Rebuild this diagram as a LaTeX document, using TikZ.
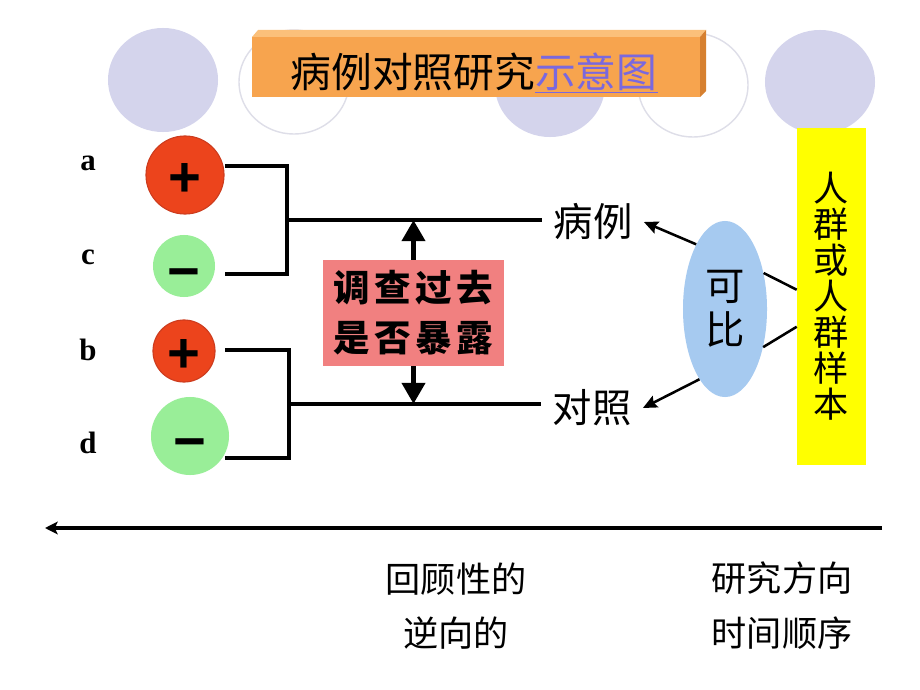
\documentclass[tikz,border=0pt]{standalone}
\usepackage{fontspec}
\setmainfont{Liberation Serif}
\newfontfamily\cjk{Noto Sans CJK SC}
\newfontfamily\cjkheavy[LetterSpace=12]{Noto Sans CJK SC}
\newfontfamily\symfont{Liberation Sans}
\usetikzlibrary{shapes}
\usetikzlibrary{arrows.meta}
\definecolor{lavender}{RGB}{212,212,236}
\definecolor{ringgrey}{RGB}{222,222,232}
\definecolor{boxfront}{RGB}{247,164,78}
\definecolor{boxtop}{RGB}{251,192,122}
\definecolor{boxside}{RGB}{214,128,48}
\definecolor{linkblue}{RGB}{122,104,222}
\definecolor{posred}{RGB}{236,68,28}
\definecolor{posedge}{RGB}{205,60,30}
\definecolor{neggreen}{RGB}{153,238,152}
\definecolor{probepink}{RGB}{241,128,128}
\definecolor{compblue}{RGB}{166,202,240}
\definecolor{sampyellow}{RGB}{255,255,0}

\begin{document}
\begin{tikzpicture}[x=0.025cm,y=-0.025cm]
	\tikzstyle{bgdisc}=[ellipse,inner sep=0pt,minimum width=2.75cm,minimum height=2.6cm,fill=lavender]
	\tikzstyle{bgring}=[bgdisc,fill=none,draw=ringgrey,line width=1pt]
	\tikzstyle{posdisc}=[circle,inner sep=0pt,text height=30pt,text depth=0pt,fill=posred,draw=posedge,line width=0.8pt,font=\symfont\bfseries\fontsize{40}{40}\selectfont]
	\tikzstyle{negdisc}=[posdisc,text height=35pt,fill=neggreen,draw=none]
	\tikzstyle{lbl}=[font=\bfseries\fontsize{22}{22}\selectfont]
	\tikzstyle{wire}=[line width=2.2pt]
	\tikzstyle{bigtip}=[line width=4pt,-{Triangle[length=15pt,width=16pt]}]
	\tikzstyle{ptr}=[line width=1.8pt,-{Stealth[length=10pt,width=9pt,inset=1.5pt]}]
	\tikzstyle{grp}=[font=\cjk\fontsize{28}{28}\selectfont,inner xsep=8pt]
	\tikzstyle{bottomnote}=[font=\cjk\fontsize{25}{39}\selectfont,align=center]

	\useasboundingbox (0,0) rectangle (920,690);
	\fill[white] (0,0) rectangle (920,690);

	\node[bgdisc] (o1) at (163,80) {};
	\node[bgring] (o2) at (294,82) {};
	\node[bgdisc] (o3) at (550,85) {};
	\node[bgring] (o4) at (693,85) {};
	\node[bgdisc] (o5) at (820,82) {};

	\fill[boxtop] (252,37) -- (258,30) -- (706,30) -- (700,37) -- cycle;
	\fill[boxside] (700,37) -- (706,30) -- (706,91) -- (700,97) -- cycle;
	\fill[boxfront] (252,37) rectangle (700,97);
	\node[font=\cjk\fontsize{29}{29}\selectfont] (title) at (474,73) {病例对照研究\textcolor{linkblue}{\underline{示意图}}};

	\node[posdisc,minimum size=1.95cm] (a) at (185,175) {+};
	\node[negdisc,minimum size=1.55cm] (c) at (184,266) {−};
	\node[posdisc,minimum size=1.55cm] (b) at (184,351) {+};
	\node[negdisc,minimum size=1.95cm] (d) at (190,436) {−};
	\node[lbl] (la) at (88,163) {a};
	\node[lbl] (lc) at (88,257) {c};
	\node[lbl] (lb) at (88,350) {b};
	\node[lbl] (ld) at (88,443) {d};

	\coordinate (ta) at (225,166);
	\coordinate (tc) at (225,274);
	\coordinate (tb) at (225,350);
	\coordinate (td) at (225,458);
	\coordinate (j1) at (287,220);
	\coordinate (j2) at (289,404);

	\node[grp] (case) at (593,222) {病例};
	\node[grp] (ctrl) at (592,408) {对照};

	\draw[wire] (ta) -| (j1) |- (tc);
	\draw[wire] (tb) -| (j2) |- (td);
	\draw[wire] (j1) -- (j1 -| case.west);
	\draw[wire] (j2) -- (j2 -| ctrl.west);

	\node[fill=probepink,minimum width=4.525cm,minimum height=2.65cm,align=center,font=\cjkheavy\bfseries\fontsize{26}{35.6}\selectfont] (probe) at (413.5,313) {调查过去\\是否暴露};
	\draw[bigtip] (probe.north) -- (probe.north |- j1);
	\draw[bigtip] (probe.south) -- (probe.south |- j2);

	\node[ellipse,fill=compblue,inner sep=0pt,minimum width=2.1cm,minimum height=4.4cm,align=center,font=\cjk\fontsize{28}{31}\selectfont] (comp) at (725,309) {可\\比};
	\node[fill=sampyellow,minimum width=1.725cm,minimum height=8.425cm,align=center,font=\cjk\fontsize{25}{25.6}\selectfont] (sam) at (831.5,296.5) {人\\群\\或\\人\\群\\样\\本};

	\draw[ptr] (comp.114) -- (case.east);
	\draw[ptr] (comp.250) -- (ctrl.east);
	\draw[line width=1.8pt] (comp.43) -- (sam.169);
	\draw[line width=1.8pt] (comp.315) -- (sam.221);

	\coordinate (tr) at (882,528);
	\coordinate (tl) at (45,528);
	\draw[line width=3pt,-{Stealth[length=9pt,width=9pt,inset=2pt]}] (tr) -- (tl);

	\node[bottomnote] (back) at (456,606) {回顾性的\\逆向的};
	\node[bottomnote] (dir) at (782,606) {研究方向\\时间顺序};
\end{tikzpicture}
\end{document}
